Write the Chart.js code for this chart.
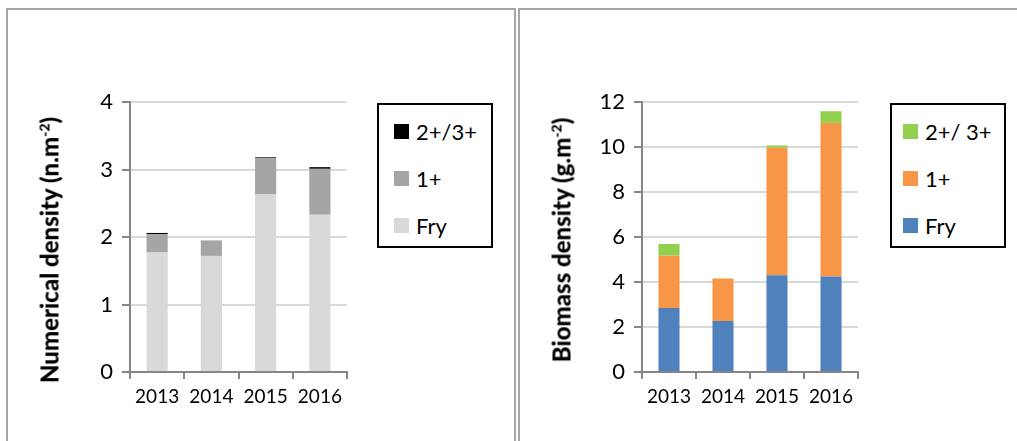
<!DOCTYPE html>
<html>
<head>
<meta charset="utf-8">
<script src="https://cdn.jsdelivr.net/npm/chart.js@4.4.1/dist/chart.umd.min.js"></script>
<style>
  html, body { margin: 0; padding: 0; background: #fff; }
  body { width: 1017px; height: 441px; position: relative; overflow: hidden; font-family: Lato, 'Open Sans', sans-serif; }
  .panel { position: absolute; top: 8px; height: 460px; border: 2px solid #a6a6a6; box-sizing: border-box; }
  .wrap { position: absolute; top: 0; width: 370px; height: 441px; }
  .ytitle { position: absolute; white-space: nowrap; font-weight: 900; font-size: 24px; color: #000;
            transform: translate(-50%, -50%) rotate(-90deg); }
  .ytitle sup { font-size: 14px; }
  .legend { position: absolute; top: 103px; width: 116px; height: 145px; border: 2px solid #000; box-sizing: border-box; }
  .legend-item { position: absolute; left: 14px; display: flex; align-items: center; font-size: 22px; height: 28px; white-space: nowrap; }
  .legend-dot { width: 15px; height: 15px; margin-right: 7px; display: inline-block; }
</style>
</head>
<body>
<div class="panel" style="left:6px; width:510px;"></div>
<div class="panel" style="left:518px; width:520px;"></div>

<div class="wrap" style="left:0;"><canvas id="numChart" width="370" height="441"></canvas></div>
<div class="wrap" style="left:520px;"><canvas id="bioChart" width="370" height="441"></canvas></div>

<div class="ytitle" style="left:49px; top:250px;">Numerical density (n.m<sup>-2</sup>)</div>
<div class="ytitle" style="left:561px; top:240px;">Biomass density (g.m<sup>-2</sup>)</div>

<div class="legend" id="numLegend" style="left:377px;"></div>
<div class="legend" id="bioLegend" style="left:890px;"></div>

<script>
const years = ['2013', '2014', '2015', '2016'];

// numerical density (n.m-2)
const numFry = [1.77, 1.72, 2.63, 2.33];
const numOne = [0.27, 0.23, 0.54, 0.68];
const numOlder = [0.02, 0, 0.01, 0.025];
const numTicks = [0, 1, 2, 3, 4];

// biomass density (g.m-2)
const bioFry = [2.84, 2.27, 4.30, 4.25];
const bioOne = [2.33, 1.89, 5.67, 6.82];
const bioOlder = [0.52, 0, 0.10, 0.52];
const bioTicks = [0, 2, 4, 6, 8, 10, 12];

const axisGray = '#868686';
const gridGray = '#d9d9d9';

function makeChart(id, series, yMax, yStep, padRight, yWidth) {
  const ctx = document.getElementById(id);
  return new Chart(ctx, {
    type: 'bar',
    data: {
      labels: years,
      datasets: series.map((s) => ({
        label: s.label,
        data: s.data,
        backgroundColor: s.color,
        borderWidth: 0,
        categoryPercentage: 1,
        barPercentage: 0.39,
      })),
    },
    options: {
      responsive: false,
      animation: false,
      layout: { padding: { top: 102, right: padRight, left: 0, bottom: 0 } },
      plugins: {
        legend: { display: false },
        tooltip: { enabled: false },
      },
      scales: {
        x: {
          stacked: true,
          grid: { display: true, drawOnChartArea: false, color: axisGray, tickLength: 7, lineWidth: 2, offset: true },
          border: { color: axisGray, width: 2 },
          ticks: { color: '#000', padding: 6, font: { family: 'Lato', size: 19 } },
          afterFit: (scale) => { scale.height = 69; },
        },
        y: {
          stacked: true,
          min: 0,
          max: yMax,
          grid: { color: gridGray, lineWidth: 2, tickLength: 8, tickColor: axisGray },
          border: { color: axisGray, width: 2 },
          ticks: { color: '#000', stepSize: yStep, padding: 9, font: { family: 'Lato', size: 22 } },
          afterFit: (scale) => { scale.width = yWidth; },
        },
      },
    },
  });
}

const numSeries = [
  { label: 'Fry', data: numFry, color: '#d9d9d9' },
  { label: '1+', data: numOne, color: '#a5a5a5' },
  { label: '2+/3+', data: numOlder, color: '#000000' },
];
const bioSeries = [
  { label: 'Fry', data: bioFry, color: '#4f81bd' },
  { label: '1+', data: bioOne, color: '#f79646' },
  { label: '2+/ 3+', data: bioOlder, color: '#92d050' },
];

makeChart('numChart', numSeries, numTicks[numTicks.length - 1], numTicks[1] - numTicks[0], 23, 130);
makeChart('bioChart', bioSeries, bioTicks[bioTicks.length - 1], bioTicks[1] - bioTicks[0], 32, 122);

function renderLegend(elId, series, left) {
  const el = document.getElementById(elId);
  const rows = series.slice().reverse();
  el.innerHTML = rows.map((s, i) =>
    `<div class="legend-item" style="left:${left}px; top:${12 + i * 47}px"><span class="legend-dot" style="background:${s.color}"></span><span>${s.label}</span></div>`
  ).join('');
}
renderLegend('numLegend', numSeries, 15);
renderLegend('bioLegend', bioSeries, 11);
</script>
</body>
</html>
